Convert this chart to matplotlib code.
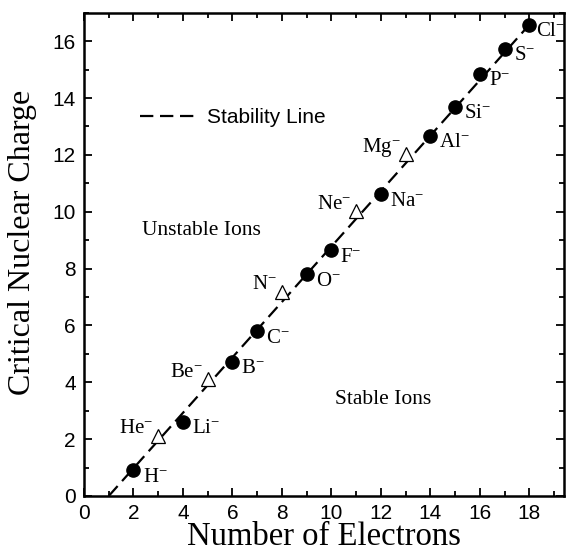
#!/usr/bin/env python3
import matplotlib
matplotlib.use('Agg')
import matplotlib.pyplot as plt
from matplotlib.ticker import MultipleLocator

# data
stable_ions = ['H', 'Li', 'B', 'C', 'O', 'F', 'Na', 'Al', 'Si', 'P', 'S', 'Cl']
stable_n = [2, 4, 6, 7, 9, 10, 12, 14, 15, 16, 17, 18]
stable_z = [0.91, 2.62, 4.72, 5.80, 7.80, 8.65, 10.62, 12.68, 13.70, 14.85, 15.73, 16.57]

tri_ions = ['He', 'Be', 'N', 'Ne', 'Mg']
tri_n = [3, 5, 8, 11, 13]
tri_z = [2.12, 4.10, 7.18, 10.02, 12.02]

line_n = [1, 18]
line_z = [0.0, 16.58]

plt.rcParams['font.family'] = 'Liberation Sans'
plt.rcParams['mathtext.fontset'] = 'custom'
plt.rcParams['mathtext.rm'] = 'Liberation Serif'
plt.rcParams['mathtext.it'] = 'Liberation Serif:italic'

serif = 'Liberation Serif'

fig = plt.figure(figsize=(5.66, 5.54), dpi=100)
ax = fig.add_axes([0.1484, 0.1047, 0.8481, 0.8723])

ax.plot(line_n, line_z, color='black', lw=1.6, dashes=(6, 3),
        label='Stability Line', zorder=2)
ax.plot(stable_n, stable_z, 'o', color='black', ms=9.5, zorder=3)
ax.plot(tri_n, tri_z, '^', mfc='white', mec='black', mew=0.9, ms=10, zorder=3)

for name, x, y in zip(stable_ions, stable_n, stable_z):
    dx = 5 if name == 'Cl' else 6.5   # Cl sits against the right spine
    ax.annotate(name + r'$^{-}$', (x, y), xytext=(dx, -5), textcoords='offset points',
                ha='left', va='center', fontsize=15, family=serif)
for name, x, y in zip(tri_ions, tri_n, tri_z):
    ax.annotate(name + r'$^{-}$', (x, y), xytext=(-3.5, 5), textcoords='offset points',
                ha='right', va='center', fontsize=15, family=serif)

ax.text(2.35, 9.33, 'Unstable Ions', fontsize=15.5, family=serif, va='center')
ax.text(10.15, 3.4, 'Stable Ions', fontsize=15.5, family=serif, va='center')

ax.legend(loc='center left', bbox_to_anchor=(0.1, 0.783), frameon=False,
          fontsize=15, handlelength=2.6, handletextpad=0.6, borderaxespad=0)

ax.set_xlim(0, 19.4)
ax.set_ylim(0, 17)
ax.xaxis.set_major_locator(MultipleLocator(2))
ax.xaxis.set_minor_locator(MultipleLocator(1))
ax.yaxis.set_major_locator(MultipleLocator(2))
ax.yaxis.set_minor_locator(MultipleLocator(1))
ax.tick_params(which='both', direction='in', top=True, right=True, width=1.3)
ax.tick_params(which='major', length=6, labelsize=15, pad=6)
ax.tick_params(which='minor', length=3.5)
for s in ax.spines.values():
    s.set_linewidth(1.8)

ax.set_xlabel('Number of Electrons', fontsize=23.5, family=serif, labelpad=-1)
ax.set_ylabel('Critical Nuclear Charge', fontsize=23, family=serif)
ax.yaxis.set_label_coords(-0.098, 0.525)

plt.savefig('out.png', dpi=100)
